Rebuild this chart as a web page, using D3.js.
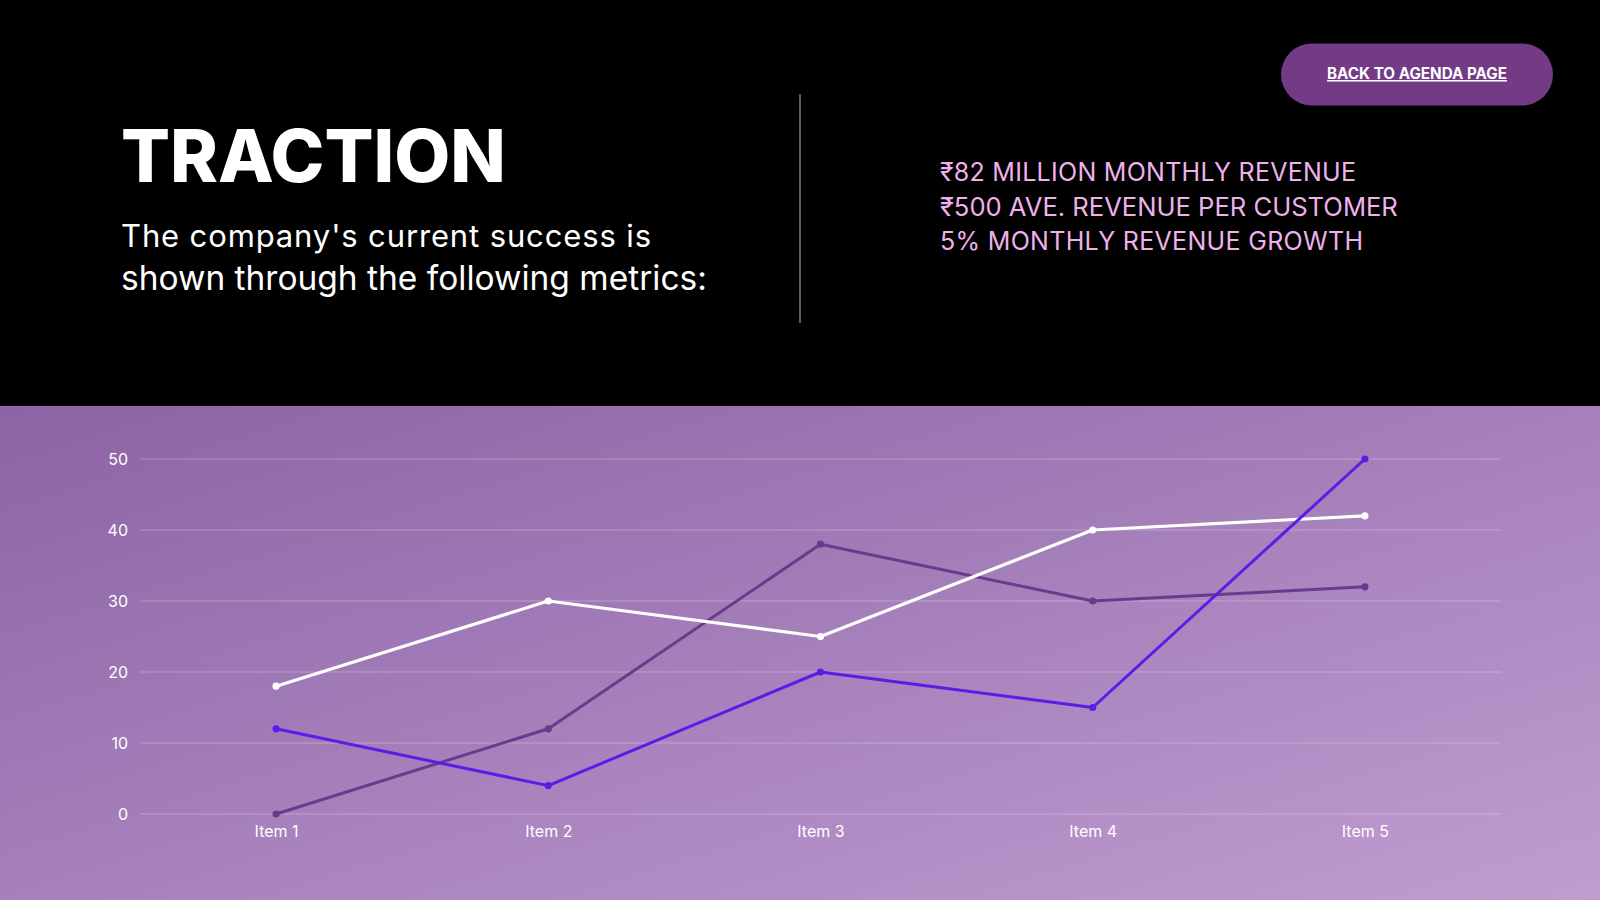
<!DOCTYPE html>
<html>
<head>
<meta charset="utf-8">
<script src="https://cdn.jsdelivr.net/npm/d3@7"></script>
<style>
html,body{margin:0;padding:0;background:#000;}
svg{display:block;}
</style>
</head>
<body>
<svg id="chart" width="1600" height="900"></svg>
<script>
const categories = ["Item 1","Item 2","Item 3","Item 4","Item 5"];
const seriesWhite = [18, 30, 25, 40, 42];
const seriesBlue = [12, 4, 20, 15, 50];
const seriesPurple = [0, 12, 38, 30, 32];
const yTicks = [0, 10, 20, 30, 40, 50];
const title = "TRACTION";
const subtitleLines = ["The company's current success is", "shown through the following metrics:"];
const metricLines = ["₹82 MILLION MONTHLY REVENUE", "₹500 AVE. REVENUE PER CUSTOMER", "5% MONTHLY REVENUE GROWTH"];
const buttonLabel = "BACK TO AGENDA PAGE";

const svg = d3.select("#chart");
const W = 1600, H = 900;

const defs = svg.append("defs");
const grad = defs.append("linearGradient").attr("id","bg")
  .attr("x1","0%").attr("y1","0%").attr("x2","100%").attr("y2","100%");
grad.append("stop").attr("offset","0%").attr("stop-color","#8c63a4");
grad.append("stop").attr("offset","100%").attr("stop-color","#bf9dd1");

svg.append("rect").attr("x",0).attr("y",0).attr("width",W).attr("height",406).attr("fill","#000");
svg.append("rect").attr("x",0).attr("y",406).attr("width",W).attr("height",H-406).attr("fill","url(#bg)");

const font = "Inter, 'Noto Sans', sans-serif";

function fitText(sel, target){
  const len = sel.node().getComputedTextLength();
  const fs = parseFloat(sel.attr("font-size"));
  sel.attr("font-size", fs * target / len);
}
function stretch(sel, target){
  sel.attr("textLength", target).attr("lengthAdjust","spacing");
}

const t = svg.append("text").attr("x",121).attr("y",182)
  .attr("font-family",font).attr("font-weight",800).attr("font-size",70)
  .attr("fill","#fff").text(title);
fitText(t, 385);

const subWidths = [530, 586];
subtitleLines.forEach((s,i)=>{
  const e = svg.append("text").attr("x",121).attr("y",247+i*43)
    .attr("font-family",font).attr("font-weight",400).attr("font-size",31)
    .attr("fill","#fff").text(s);
  if(i===1) fitText(e, subWidths[i]); else stretch(e, subWidths[i]);
});

svg.append("line").attr("x1",800).attr("x2",800).attr("y1",94).attr("y2",323)
  .attr("stroke","#9a9a9a").attr("stroke-width",1.2);

const metricWidths = [416, 458, 423];
metricLines.forEach((s,i)=>{
  const e = svg.append("text").attr("x",940).attr("y",181+i*34.5)
    .attr("font-family",font).attr("font-weight",400).attr("font-size",25)
    .attr("fill","#eeb2ea").text(s);
  if(i===1) fitText(e, metricWidths[i]); else stretch(e, metricWidths[i]);
});

svg.append("rect").attr("x",1281).attr("y",43.5).attr("width",272).attr("height",62)
  .attr("rx",31).attr("fill","#733b86");
const bt = svg.append("text").attr("x",1417).attr("y",79).attr("text-anchor","middle")
  .attr("font-family",font).attr("font-weight",700).attr("font-size",14)
  .attr("fill","#fff").attr("text-decoration","underline").text(buttonLabel);
fitText(bt, 180);

const x = d3.scalePoint().domain(categories).range([140,1501]).padding(0.5);
const y = d3.scaleLinear().domain([0,50]).range([814,459]);

const grid = svg.append("g");
grid.selectAll("line").data(yTicks).join("line")
  .attr("x1",140).attr("x2",1501)
  .attr("y1",d=>y(d)).attr("y2",d=>y(d))
  .attr("stroke","rgba(255,255,255,0.28)").attr("stroke-width",1.2);

const yAxis = svg.append("g").attr("transform","translate(128,0)")
  .call(d3.axisLeft(y).tickValues(yTicks).tickSize(0).tickPadding(0));
yAxis.select(".domain").remove();
yAxis.selectAll("text").attr("font-family",font).attr("font-size",16)
  .attr("fill","#fff").attr("dy","0.32em");

const xAxis = svg.append("g").attr("transform","translate(0,814)")
  .call(d3.axisBottom(x).tickSize(0).tickPadding(12));
xAxis.select(".domain").remove();
xAxis.selectAll("text").attr("font-family",font).attr("font-size",16)
  .attr("fill","#fff");

const series = [
  {values: seriesPurple, color: "#6c3a8c", w: 3},
  {values: seriesWhite, color: "#ffffff", w: 3.2},
  {values: seriesBlue, color: "#5a1de6", w: 3}
];
const line = d3.line().x((d,i)=>x(categories[i])).y(d=>y(d));
series.forEach(s=>{
  const g = svg.append("g");
  g.append("path").datum(s.values).attr("d",line).attr("fill","none")
    .attr("stroke",s.color).attr("stroke-width",s.w).attr("stroke-linejoin","round");
  g.selectAll("circle").data(s.values).join("circle")
    .attr("cx",(d,i)=>x(categories[i])).attr("cy",d=>y(d)).attr("r",3.6)
    .attr("fill",s.color);
});
</script>
</body>
</html>
